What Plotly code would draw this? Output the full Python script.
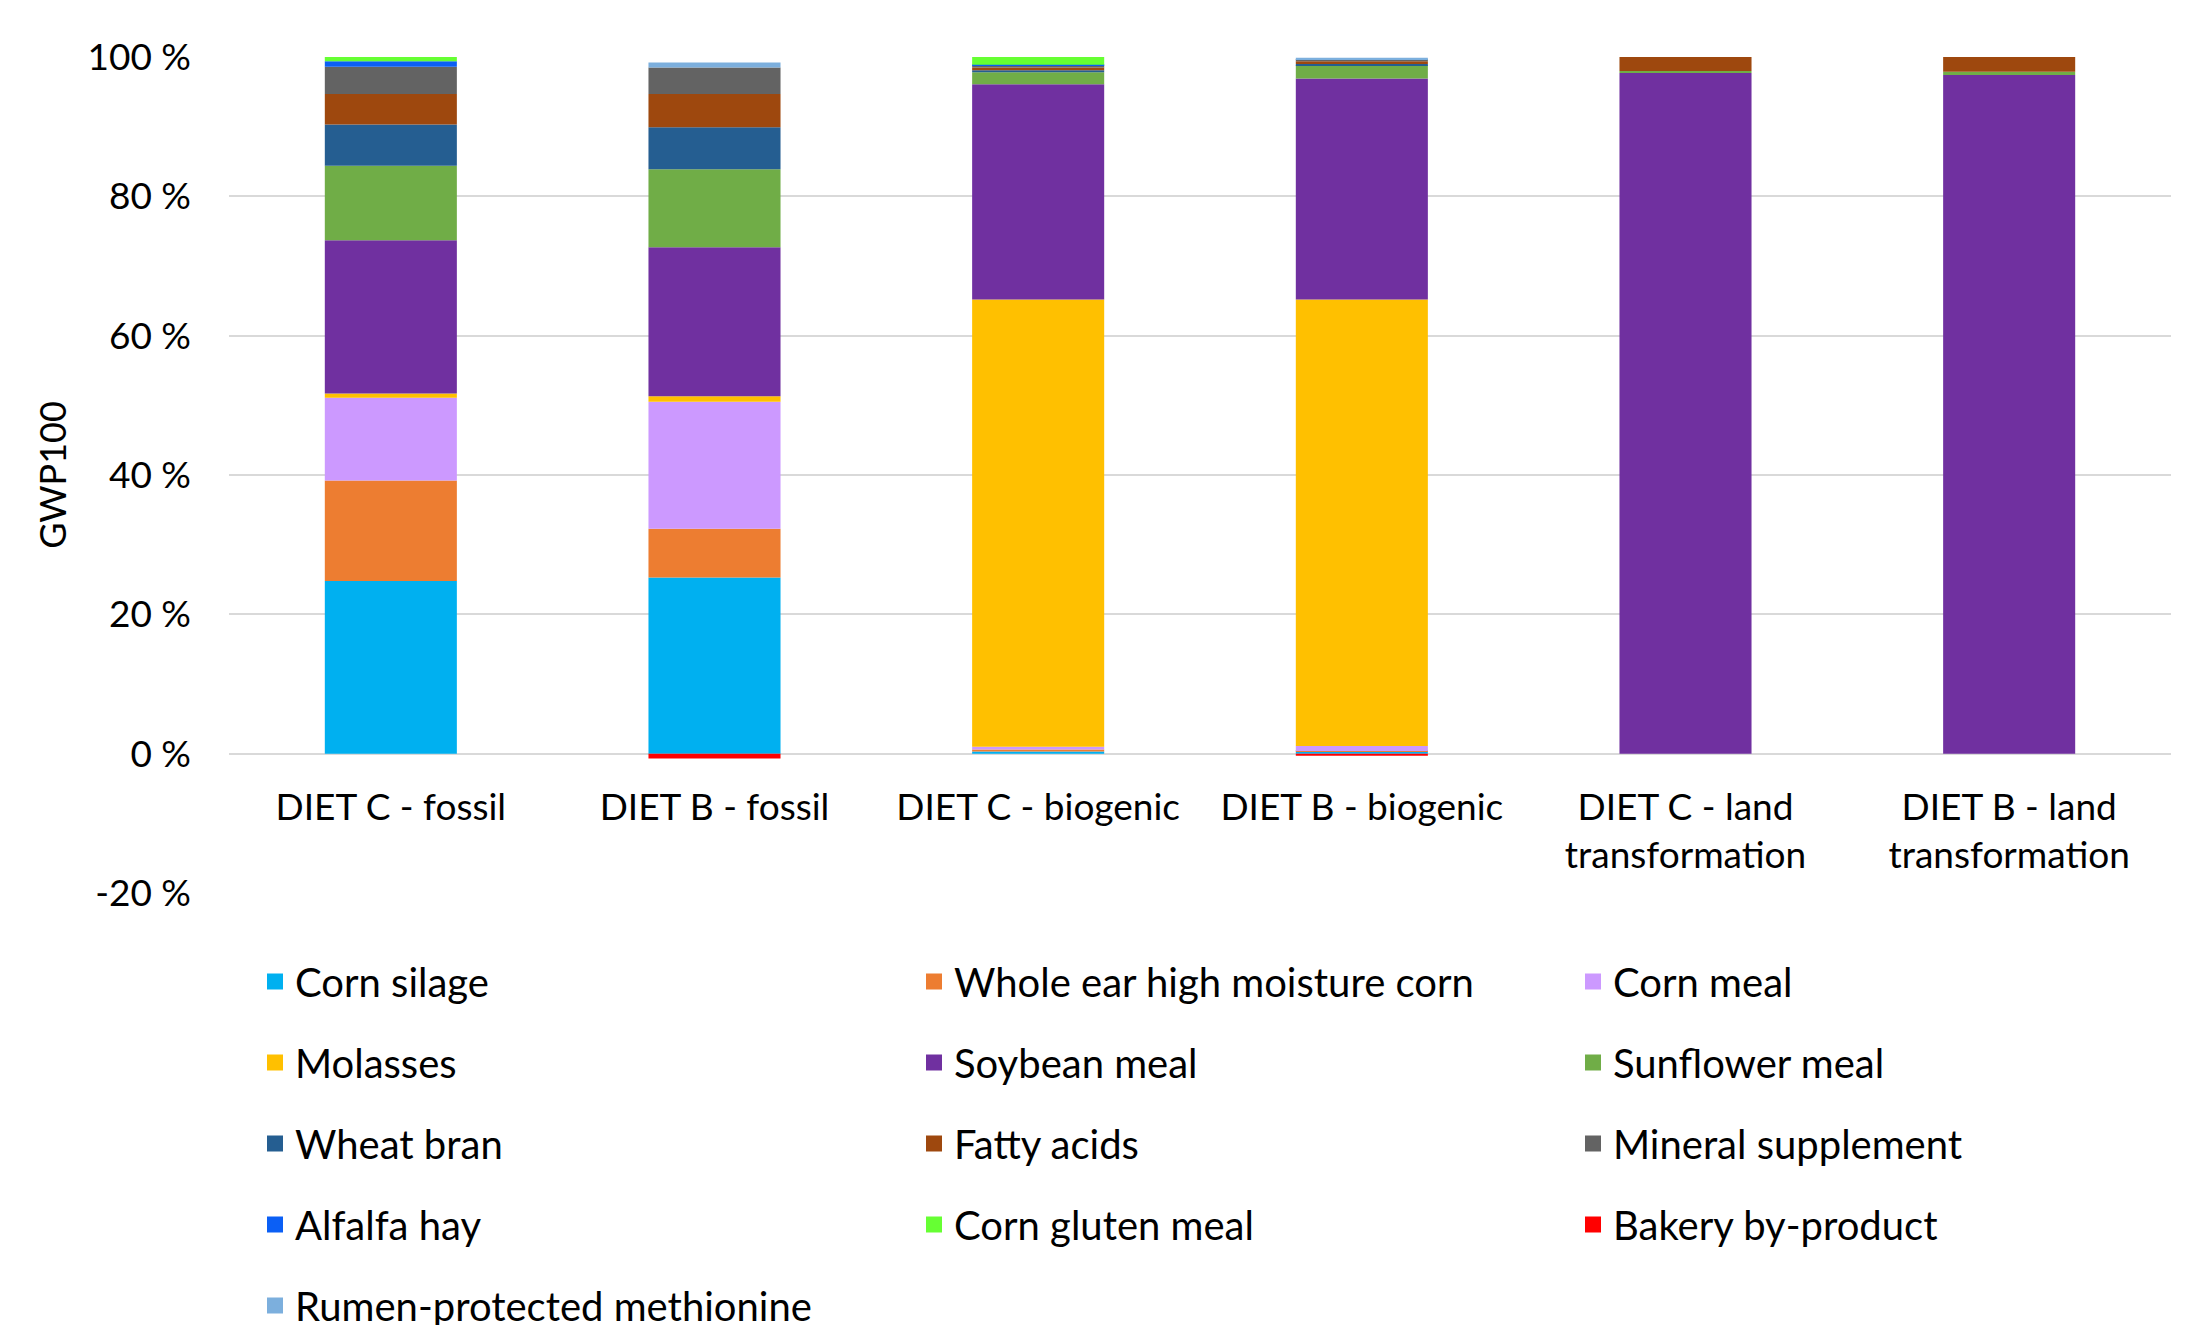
import plotly.graph_objects as go

categories = ["DIET C - fossil", "DIET B - fossil", "DIET C - biogenic", "DIET B - biogenic",
              "DIET C - land<br>transformation", "DIET B - land<br>transformation"]

corn_silage = [24.8, 25.3, 0.3, 0.3, 0.0, 0.0]
whole_ear_corn = [14.4, 7.0, 0.3, 0.1, 0.0, 0.0]
corn_meal = [11.9, 18.2, 0.4, 0.7, 0.0, 0.0]
molasses = [0.6, 0.8, 64.2, 64.1, 0.0, 0.0]
soybean_meal = [22.0, 21.4, 30.9, 31.7, 97.7, 97.4]
sunflower_meal = [10.7, 11.2, 1.7, 1.9, 0.3, 0.5]
wheat_bran = [5.9, 6.0, 0.3, 0.2, 0.0, 0.0]
fatty_acids = [4.4, 4.8, 0.4, 0.4, 2.0, 2.1]
mineral_supplement = [3.9, 3.8, 0.3, 0.3, 0.0, 0.0]
alfalfa_hay = [0.8, 0.0, 0.1, 0.0, 0.0, 0.0]
corn_gluten_meal = [0.6, 0.0, 1.1, 0.0, 0.0, 0.0]
bakery_by_product = [0.0, -0.7, 0.0, -0.3, 0.0, 0.0]
rumen_methionine = [0.0, 0.7, 0.0, 0.2, 0.0, 0.0]

series_names = ["Corn silage", "Whole ear high moisture corn", "Corn meal",
                "Molasses", "Soybean meal", "Sunflower meal",
                "Wheat bran", "Fatty acids", "Mineral supplement",
                "Alfalfa hay", "Corn gluten meal", "Bakery by-product",
                "Rumen-protected methionine"]
series_values = [corn_silage, whole_ear_corn, corn_meal, molasses, soybean_meal,
                 sunflower_meal, wheat_bran, fatty_acids, mineral_supplement,
                 alfalfa_hay, corn_gluten_meal, bakery_by_product, rumen_methionine]
series_colors = ["#00B0F0", "#ED7D31", "#CC99FF", "#FFC000", "#7030A0", "#70AD47",
                 "#255E91", "#9E480E", "#636363", "#0B5FF5", "#66FF33", "#FF0000",
                 "#7CAFDD"]

y_tickvals = [-20, 0, 20, 40, 60, 80, 100]
y_ticktext = ["-20 %", "0 %", "20 %", "40 %", "60 %", "80 %", "100 %"]

FONT = "Lato, sans-serif"
FS = 37
LEG_FS = 40

fig = go.Figure()
legend_ids = ["legend", "legend2", "legend3"]
for i, (name, vals, col) in enumerate(zip(series_names, series_values, series_colors)):
    fig.add_trace(go.Bar(
        x=categories, y=vals, name=name,
        marker=dict(color=col, line=dict(width=0)),
        legendgroup=name, showlegend=False,
    ))
# legend entries (square keys), one per series
for i, (name, col) in enumerate(zip(series_names, series_colors)):
    fig.add_trace(go.Scatter(
        x=[None], y=[None], mode="markers", name=name,
        marker=dict(symbol="square", color=col, size=16, line=dict(width=0)),
        legend=legend_ids[i % 3], legendgroup=name, showlegend=True,
        hoverinfo="skip",
    ))

W, H = 2206, 1325
ml, mr, mt = 229, 35, 57
plot_bottom = 893
mb = H - plot_bottom
plot_h = plot_bottom - mt
plot_w = W - ml - mr

col_left = [255, 914, 1573]
first_row_top = 949
legend_common = dict(orientation="v", xanchor="left", yanchor="top",
                     font=dict(family=FONT, size=LEG_FS, color="#000000"),
                     bgcolor="rgba(0,0,0,0)", traceorder="grouped",
                     tracegroupgap=26, itemsizing="trace",
                     itemclick=False, itemdoubleclick=False)
legends = {}
for lid, xl in zip(legend_ids, col_left):
    legends[lid] = dict(legend_common, x=(xl - ml) / plot_w,
                        y=(plot_bottom - first_row_top) / plot_h)

fig.update_layout(
    width=W, height=H,
    margin=dict(l=ml, r=mr, t=mt, b=mb, pad=0, autoexpand=False),
    barmode="relative",
    bargap=0.592,
    plot_bgcolor="#FFFFFF", paper_bgcolor="#FFFFFF",
    font=dict(family=FONT, size=FS, color="#000000"),
    showlegend=True,
    **legends,
    xaxis=dict(
        anchor="free", position=20 / 120,
        showgrid=False, showline=False, zeroline=False, ticks="",
        tickfont=dict(family=FONT, size=FS, color="#000000"),
        ticklabelstandoff=28,
    ),
    yaxis=dict(
        range=[-20, 100], tickvals=y_tickvals, ticktext=y_ticktext,
        showgrid=True, gridcolor="#D9D9D9", gridwidth=2,
        zeroline=False, showline=False, ticks="",
        tickfont=dict(family=FONT, size=FS, color="#000000"),
        ticklabelstandoff=37,
        title=dict(text="GWP100", font=dict(family=FONT, size=36, color="#000000"), standoff=9),
    ),
)

fig.write_html("out.html")
